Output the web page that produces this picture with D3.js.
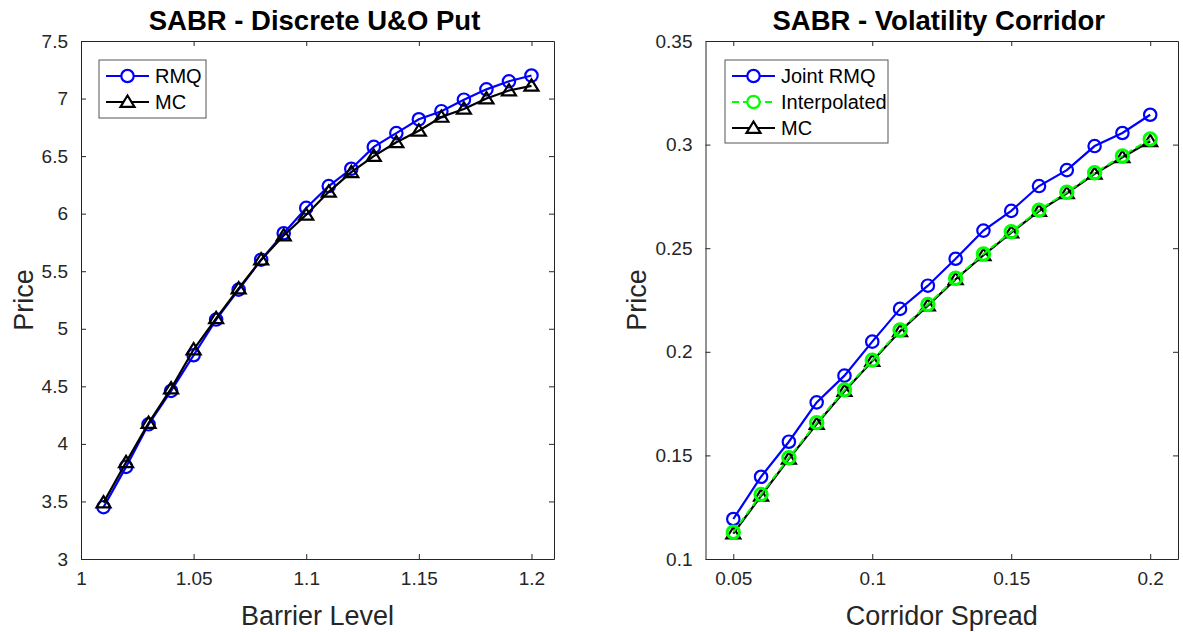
<!DOCTYPE html>
<html>
<head>
<meta charset="utf-8">
<script src="https://cdn.jsdelivr.net/npm/d3@7"></script>
<style>
  body { margin: 0; background: #fff; }
  svg text { font-family: "Liberation Sans", Arial, Helvetica, sans-serif; fill: #262626; }
</style>
</head>
<body>
<div id="chart"></div>
<script>
// Left panel data: barrier levels and prices
var barrier = [1.01, 1.02, 1.03, 1.04, 1.05, 1.06, 1.07, 1.08, 1.09, 1.10,
               1.11, 1.12, 1.13, 1.14, 1.15, 1.16, 1.17, 1.18, 1.19, 1.20];
var uoRMQ = [3.45, 3.80, 4.17, 4.46, 4.77, 5.08, 5.34, 5.60, 5.83, 6.05,
             6.24, 6.39, 6.58, 6.70, 6.82, 6.89, 6.99, 7.08, 7.15, 7.20];
var uoMC  = [3.49, 3.84, 4.18, 4.48, 4.82, 5.09, 5.35, 5.60, 5.81, 5.99,
             6.19, 6.36, 6.50, 6.62, 6.72, 6.84, 6.91, 7.00, 7.07, 7.11];
var leftXTicks = [1, 1.05, 1.1, 1.15, 1.2];
var leftYTicks = [3, 3.5, 4, 4.5, 5, 5.5, 6, 6.5, 7, 7.5];

// Right panel data: corridor spreads and prices
var spread = [0.05, 0.06, 0.07, 0.08, 0.09, 0.10, 0.11, 0.12,
              0.13, 0.14, 0.15, 0.16, 0.17, 0.18, 0.19, 0.20];
var corrRMQ    = [0.1193, 0.1397, 0.1566, 0.1756, 0.1885, 0.2049, 0.2207, 0.2319,
                  0.2449, 0.2585, 0.2680, 0.2800, 0.2877, 0.2993, 0.3056, 0.3144];
var corrInterp = [0.1129, 0.1312, 0.1489, 0.1658, 0.1816, 0.1960, 0.2105, 0.2229,
                  0.2355, 0.2472, 0.2580, 0.2684, 0.2770, 0.2864, 0.2945, 0.3027];
var corrMC     = [0.1122, 0.1305, 0.1483, 0.1651, 0.1810, 0.1955, 0.2099, 0.2223,
                  0.2350, 0.2466, 0.2575, 0.2679, 0.2765, 0.2859, 0.2939, 0.3016];
var rightXTicks = [0.05, 0.1, 0.15, 0.2];
var rightYTicks = [0.1, 0.15, 0.2, 0.25, 0.3, 0.35];

var W = 1183, H = 632;
var axisColor = "#262626";

var svg = d3.select("#chart").append("svg")
  .attr("width", W)
  .attr("height", H);

// triangle marker path ("^")
function triPath(s) {
  return "M0," + (-6.5 * s) + "L" + (7 * s) + "," + (4.8 * s) + "L" + (-7 * s) + "," + (4.8 * s) + "Z";
}

function drawPanel(opt) {
  var g = svg.append("g");
  var x = d3.scaleLinear().domain(opt.xDomain).range([opt.left, opt.right]);
  var y = d3.scaleLinear().domain(opt.yDomain).range([opt.bottom, opt.top]);

  // axes on all four sides, ticks pointing inward
  var axes = [
    { ax: d3.axisBottom(x).tickValues(opt.xTicks).tickFormat(d3.format("")), t: "translate(0," + opt.bottom + ")", labels: true },
    { ax: d3.axisTop(x).tickValues(opt.xTicks), t: "translate(0," + opt.top + ")", labels: false },
    { ax: d3.axisLeft(y).tickValues(opt.yTicks).tickFormat(d3.format("")), t: "translate(" + opt.left + ",0)", labels: true },
    { ax: d3.axisRight(y).tickValues(opt.yTicks), t: "translate(" + opt.right + ",0)", labels: false }
  ];
  axes.forEach(function(a) {
    a.ax.tickSizeInner(-5).tickSizeOuter(0).tickPadding(13);
    var ag = g.append("g").attr("transform", a.t).call(a.ax);
    ag.select(".domain").attr("stroke", axisColor).attr("stroke-width", 1);
    ag.selectAll(".tick line").attr("stroke", axisColor).attr("stroke-width", 1);
    ag.selectAll(".tick text")
      .style("font-size", "19px")
      .attr("fill", axisColor)
      .style("font-family", "'Liberation Sans', Arial, sans-serif");
    if (!a.labels) ag.selectAll(".tick text").remove();
  });

  // series
  opt.series.forEach(function(s) {
    var pts = opt.xs.map(function(d, i) { return [x(d), y(s.values[i])]; });
    g.append("path")
      .attr("d", d3.line()(pts))
      .attr("fill", "none")
      .attr("stroke", s.color)
      .attr("stroke-width", s.width)
      .attr("stroke-dasharray", s.dash || null);
    var mk = g.selectAll(null).data(pts).enter();
    if (s.marker == "circle") {
      mk.append("circle")
        .attr("cx", function(d) { return d[0]; })
        .attr("cy", function(d) { return d[1]; })
        .attr("r", 6.2)
        .attr("fill", "none")
        .attr("stroke", s.color)
        .attr("stroke-width", s.mwidth);
    } else {
      mk.append("path")
        .attr("d", triPath(1))
        .attr("transform", function(d) { return "translate(" + d[0] + "," + d[1] + ")"; })
        .attr("fill", "none")
        .attr("stroke", s.color)
        .attr("stroke-width", s.mwidth)
        .attr("stroke-linejoin", "miter");
    }
  });

  // title
  g.append("text")
    .attr("x", (opt.left + opt.right) / 2 - 3)
    .attr("y", 30)
    .attr("text-anchor", "middle")
    .style("font-size", "27.5px")
    .style("font-weight", "bold")
    .attr("fill", "#000")
    .style("fill", "#000")
    .text(opt.title);

  // axis labels
  g.append("text")
    .attr("x", (opt.left + opt.right) / 2)
    .attr("y", 625)
    .attr("text-anchor", "middle")
    .style("font-size", "27px")
    .text(opt.xLabel);
  g.append("text")
    .attr("transform", "translate(" + opt.yLabelX + "," + ((opt.top + opt.bottom) / 2) + ") rotate(-90)")
    .attr("text-anchor", "middle")
    .style("font-size", "27px")
    .text("Price");

  // legend
  var lg = opt.legend;
  g.append("rect")
    .attr("x", lg.x).attr("y", lg.y)
    .attr("width", lg.w).attr("height", lg.h)
    .attr("fill", "#fff")
    .attr("stroke", "#555")
    .attr("stroke-width", 1);
  opt.series.slice().sort(function(a, b) { return a.order - b.order; }).forEach(function(s, i) {
    var cy = lg.y + 16 + i * 26;
    var x0 = lg.x + 7, x1 = lg.x + 50, xm = (x0 + x1) / 2;
    g.append("line")
      .attr("x1", x0).attr("x2", x1).attr("y1", cy).attr("y2", cy)
      .attr("stroke", s.color).attr("stroke-width", 2.2)
      .attr("stroke-dasharray", s.dash || null);
    if (s.marker == "circle") {
      g.append("circle").attr("cx", xm).attr("cy", cy).attr("r", 6.2)
        .attr("fill", "#fff").attr("stroke", s.color).attr("stroke-width", 2.2);
    } else {
      g.append("path").attr("d", triPath(1))
        .attr("transform", "translate(" + xm + "," + cy + ")")
        .attr("fill", "#fff").attr("stroke", s.color).attr("stroke-width", 2.2);
    }
    g.append("text")
      .attr("x", lg.x + 56)
      .attr("y", cy + 7)
      .style("font-size", "20px")
      .attr("fill", "#000")
      .style("fill", "#000")
      .text(s.name);
  });
}

drawPanel({
  left: 81, right: 554, top: 41, bottom: 559,
  xDomain: [1, 1.21], yDomain: [3, 7.5],
  xTicks: leftXTicks, yTicks: leftYTicks,
  xs: barrier,
  title: "SABR - Discrete U&O Put",
  xLabel: "Barrier Level",
  yLabelX: 33,
  legend: { x: 99, y: 60, w: 107, h: 58 },
  series: [
    { name: "RMQ", values: uoRMQ, color: "#0000ff", width: 2.2, mwidth: 2.2, marker: "circle", order: 0 },
    { name: "MC", values: uoMC, color: "#000", width: 2.2, mwidth: 2.2, marker: "tri", order: 1 }
  ]
});

drawPanel({
  left: 705.5, right: 1178, top: 41, bottom: 559,
  xDomain: [0.04, 0.21], yDomain: [0.1, 0.35],
  xTicks: rightXTicks, yTicks: rightYTicks,
  xs: spread,
  title: "SABR - Volatility Corridor",
  xLabel: "Corridor Spread",
  yLabelX: 646,
  legend: { x: 725, y: 60, w: 163, h: 83 },
  series: [
    { name: "Joint RMQ", values: corrRMQ, color: "#0000ff", width: 2.2, mwidth: 2.2, marker: "circle", order: 0 },
    { name: "MC", values: corrMC, color: "#000", width: 2.2, mwidth: 2.2, marker: "tri", order: 2 },
    { name: "Interpolated", values: corrInterp, color: "#00ff00", width: 2, mwidth: 3, marker: "circle", dash: "7,4", order: 1 }
  ]
});
</script>
</body>
</html>
